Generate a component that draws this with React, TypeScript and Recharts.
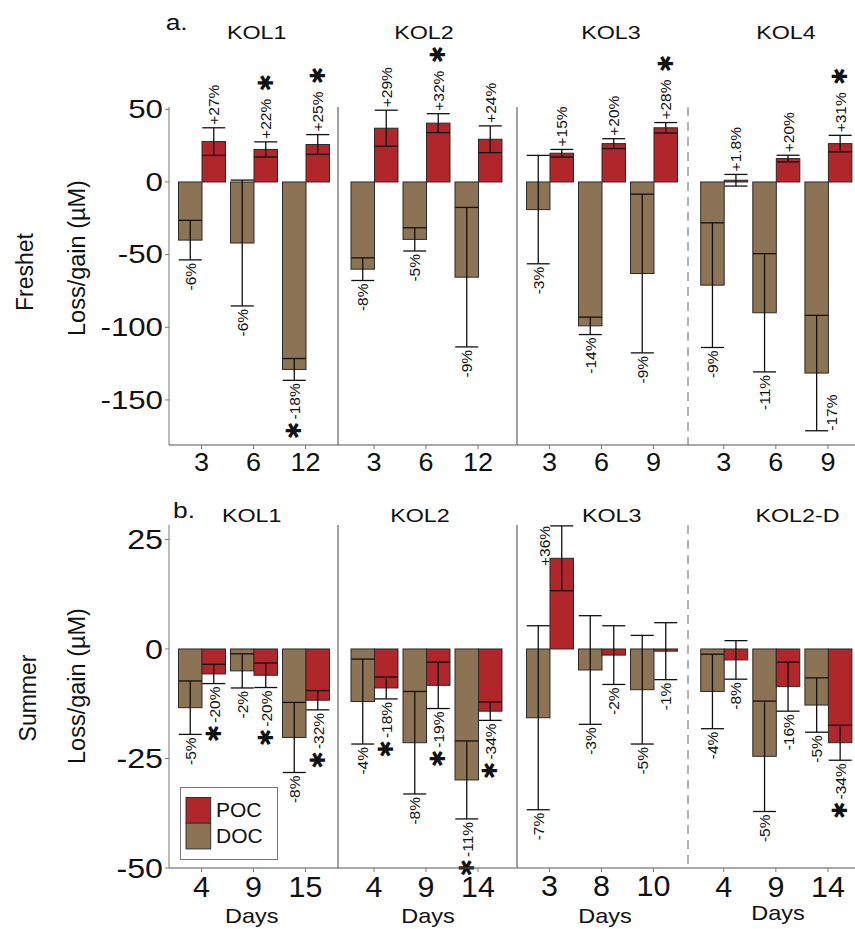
import React from "react";
import { BarChart, Bar, XAxis, YAxis, ErrorBar, Legend } from "recharts";

const FONT = '"Liberation Sans", Arial, Helvetica, sans-serif';
const DOC_FILL = "#8c7354";
const POC_FILL = "#b0262b";
const INK = "#111";

// ---- Freshet (panel a) ----
const freshetSites = ["KOL1", "KOL2", "KOL3", "KOL4"];
const freshetDays = [[3, 6, 12], [3, 6, 12], [3, 6, 9], [3, 6, 9]];
const freshetDoc = [[-40, -42, -129], [-60, -39.5, -65.5], [-19, -99, -63], [-71, -90, -131.5]];
const freshetDocErr = [[13.6, 43.3, 7.5], [7.8, 8, 48], [37.3, 6, 54.6], [42.9, 40.7, 39.7]];
const freshetPoc = [[27.8, 22.4, 25.8], [37, 40.5, 29.4], [19.8, 26.4, 37.3], [1.2, 16.1, 26.4]];
const freshetPocErr = [[9.5, 5.2, 6.8], [12.4, 6.5, 9.2], [2.6, 3.4, 3.6], [4, 2.3, 5.7]];
const freshetDocPct = [["-6%", "-6%", "-18%"], ["-8%", "-5%", "-9%"], ["-3%", "-14%", "-9%"], ["-9%", "-11%", "-17%"]];
const freshetPocPct = [["+27%", "+22%", "+25%"], ["+29%", "+32%", "+24%"], ["+15%", "+20%", "+28%"], ["+1.8%", "+20%", "+31%"]];
const freshetDocSig = [[false, false, true], [false, false, false], [false, false, false], [false, false, false]];
const freshetPocSig = [[false, true, true], [false, true, false], [false, false, true], [false, false, true]];
const freshetTicks = [50, 0, -50, -100, -150];
const freshetDomain: [number, number] = [-181, 51.6];

// ---- Summer (panel b) ----
const summerSites = ["KOL1", "KOL2", "KOL3", "KOL2-D"];
const summerDays = [[4, 9, 15], [4, 9, 14], [3, 8, 10], [4, 9, 14]];
const summerDoc = [[-13.4, -5, -20.2], [-12, -21.4, -29.9], [-15.7, -4.8, -9.3], [-9.7, -24.5, -12.8]];
const summerDocErr = [[6.1, 3.9, 8], [9.7, 11.7, 8.9], [21, 12.4, 12.4], [8.5, 12.6, 6.2]];
const summerPoc = [[-5.7, -6, -11.7], [-8.9, -8.3, -14.2], [20.7, -1.4, -0.5], [-2.5, -8.6, -21.4]];
const summerPocErr = [[2.2, 2.8, 2.2], [2.5, 5.3, 2.1], [7.4, 6.7, 6.5], [4.4, 5.6, 4]];
const summerDocPct = [["-5%", "-2%", "-8%"], ["-4%", "-8%", "-11%"], ["-7%", "-3%", "-5%"], ["-4%", "-5%", "-5%"]];
const summerPocPct = [["-20%", "-20%", "-32%"], ["-18%", "-19%", "-34%"], ["+36%", "-2%", "-1%"], ["-8%", "-16%", "-34%"]];
const summerDocSig = [[false, false, false], [false, false, true], [false, false, false], [false, false, false]];
const summerPocSig = [[true, true, true], [true, true, true], [false, false, false], [false, false, true]];
const summerTicks = [25, 0, -25, -50];
const summerDomain: [number, number] = [-50, 28.3];

function buildRows(
  days: number[][], doc: number[][], docErr: number[][], poc: number[][], pocErr: number[][],
  docPct: string[][], pocPct: string[][], docSig: boolean[][], pocSig: boolean[][]
) {
  return days.map((ds, s) =>
    ds.map((d, i) => ({
      day: String(d),
      doc: doc[s][i], docErr: docErr[s][i], docPct: docPct[s][i], docSig: docSig[s][i],
      poc: poc[s][i], pocErr: pocErr[s][i], pocPct: pocPct[s][i], pocSig: pocSig[s][i],
    }))
  );
}

const freshetRows = buildRows(freshetDays, freshetDoc, freshetDocErr, freshetPoc, freshetPocErr,
  freshetDocPct, freshetPocPct, freshetDocSig, freshetPocSig);
const summerRows = buildRows(summerDays, summerDoc, summerDocErr, summerPoc, summerPocErr,
  summerDocPct, summerPocPct, summerDocSig, summerPocSig);

// sub-panel slots shared by both rows
const slots = [
  { left: 0, width: 338, yw: 169, pad: { left: 6.5, right: 6.5 }, dashed: false },
  { left: 337, width: 179.5, yw: 1, pad: { left: 10, right: 12.5 }, dashed: false },
  { left: 515.5, width: 172.8, yw: 1, pad: { left: 6.5, right: 9.3 }, dashed: false },
  { left: 687.3, width: 171, yw: 1, pad: { left: 9.7, right: 4 }, dashed: true },
];

const LABEL_SIZE = 15.5;
const STAR_SIZE = 21;
const charW: Record<string, number> = { "-": 0.333, "+": 0.584, ".": 0.278, "%": 0.889 };
const textLen = (s: string, size: number) => {
  let w = 0;
  for (const c of s) w += charW[c] ?? 0.556;
  return w * size;
};

function BarMark(props: any) {
  const { x, y, width, height, background, payload, kind, domain } = props;
  const fill = kind === "doc" ? DOC_FILL : POC_FILL;
  const v: number = payload[kind];
  const err: number = payload[kind + "Err"];
  const pct: string = payload[kind + "Pct"];
  const sig: boolean = payload[kind + "Sig"];
  const [dmin, dmax] = domain;
  const pix = (val: number) => background.y + ((dmax - val) / (dmax - dmin)) * background.height;
  const top = Math.min(y, y + height);
  const h = Math.abs(height);
  const cx = x + width / 2;
  const up = v >= 0;
  const capY = pix(up ? v + err : v - err);
  const gap = 3;
  const len = textLen(pct, LABEL_SIZE);
  const side = kind === "doc" ? 1 : -1;
  let lx = cx;
  let ly: number;
  let anchor: "start" | "end";
  if (up) {
    if (capY - gap - len < 0) {
      // no room above: put it beside the whisker, hanging down from the cap
      lx = cx + side * width * 0.75;
      ly = capY;
      anchor = "end";
    } else {
      ly = capY - gap;
      anchor = "start";
    }
  } else if (capY + gap + len > background.y + background.height + 6) {
    // no room below the axis: put it beside the whisker, rising from the cap
    lx = cx + side * width * 0.65;
    ly = capY;
    anchor = "start";
  } else {
    ly = capY + gap;
    anchor = "end";
  }
  const star = (
    <tspan fontSize={STAR_SIZE} fontFamily="DejaVu Sans">
      {"\u2731"}
    </tspan>
  );
  let content: React.ReactNode = pct;
  if (sig && up) content = <>{pct}<tspan dx={3}> </tspan>{star}</>;
  if (sig && !up) content = <>{star}<tspan dx={2}>{pct}</tspan></>;
  return (
    <g>
      <rect x={x} y={top} width={width} height={h} fill={fill} stroke="#2a2a2a" strokeWidth={1} />
      <text
        transform={`translate(${lx},${ly}) rotate(-90)`}
        textAnchor={anchor}
        dominantBaseline="central"
        fontSize={LABEL_SIZE}
        fontFamily={FONT}
        fill={INK}
      >
        {content}
      </text>
    </g>
  );
}

function LegendBox({ payload }: any) {
  const items = [...(payload ?? [])].reverse();
  return (
    <svg width={98} height={73} style={{ display: "block" }}>
      <rect x={0.5} y={0.5} width={97} height={72} fill="#fff" stroke="#777" />
      {items.map((it: any, i: number) => (
        <g key={it.value}>
          <rect x={6} y={10.5 + i * 25.7} width={24.7} height={25.7} fill={it.color} stroke="#333" />
          <text x={36} y={29.5 + i * 26.6} fontSize={21} fontFamily={FONT} fill={INK}>
            {it.value}
          </text>
        </g>
      ))}
    </svg>
  );
}

type PanelProps = {
  rows: any[][];
  domain: [number, number];
  ticks: number[];
  top: number;
  marginTop: number;
  plotH: number;
  xh: number;
  xTick: { size: number; sx: number; dy: number };
  yTick: { size: number; sx: number };
  legend?: boolean;
};

function Panel({ rows, domain, ticks, top, marginTop, plotH, xh, xTick, yTick, legend }: PanelProps) {
  const h = marginTop + plotH + xh;
  return (
    <>
      {slots.map((slot, s) => (
        <div key={s} style={{ position: "absolute", left: slot.left, top, width: slot.width, height: h }}>
          <BarChart
            width={slot.width}
            height={h}
            data={rows[s]}
            margin={{ top: marginTop, right: 0, bottom: 0, left: 0 }}
            barSize={23.5}
            barGap={0}
          >
            <XAxis
              dataKey="day"
              interval={0}
              padding={slot.pad}
              height={xh}
              tickSize={4}
              tickMargin={0}
              axisLine={{ stroke: "#555" }}
              tickLine={{ stroke: "#777" }}
              tick={(p: any) => (
                <text
                  transform={`translate(${p.x},${p.y + xTick.dy}) scale(${xTick.sx},1)`}
                  textAnchor="middle"
                  fontSize={xTick.size}
                  fontFamily={FONT}
                  fill={INK}
                >
                  {p.payload.value}
                </text>
              )}
            />
            {s === 0 ? (
              <YAxis
                type="number"
                domain={domain}
                ticks={ticks}
                interval={0}
                width={slot.yw}
                tickSize={4}
                tickMargin={2}
                axisLine={{ stroke: "#777" }}
                tickLine={{ stroke: "#777" }}
                tick={(p: any) => (
                  <text
                    transform={`translate(${p.x},${p.y}) scale(${yTick.sx},1)`}
                    textAnchor="end"
                    dominantBaseline="central"
                    fontSize={yTick.size}
                    fontFamily={FONT}
                    fill={INK}
                  >
                    {p.payload.value}
                  </text>
                )}
              />
            ) : (
              <YAxis
                type="number"
                domain={domain}
                ticks={ticks}
                width={slot.yw}
                tick={false}
                tickLine={false}
                axisLine={{ stroke: slot.dashed ? "#666" : "#444", strokeDasharray: slot.dashed ? "9 6" : undefined }}
              />
            )}
            <Bar
              dataKey="doc"
              name="DOC"
              fill={DOC_FILL}
              isAnimationActive={false}
              shape={(p: any) => <BarMark {...p} kind="doc" domain={domain} />}
            >
              <ErrorBar dataKey="docErr" width={11.5} stroke={INK} strokeWidth={1.3} isAnimationActive={false} />
            </Bar>
            <Bar
              dataKey="poc"
              name="POC"
              fill={POC_FILL}
              isAnimationActive={false}
              shape={(p: any) => <BarMark {...p} kind="poc" domain={domain} />}
            >
              <ErrorBar dataKey="pocErr" width={11.5} stroke={INK} strokeWidth={1.3} isAnimationActive={false} />
            </Bar>
            {legend && s === 0 ? (
              <Legend
                layout="vertical"
                align="center"
                verticalAlign="middle"
                content={(p: any) => <LegendBox payload={p.payload} />}
                wrapperStyle={{ left: 180, top: 282.3, width: 98, height: 73 }}
              />
            ) : null}
          </BarChart>
        </div>
      ))}
    </>
  );
}

const Stretch = ({ x, y, size, sx, anchor = "middle", children }: any) => (
  <text
    transform={`translate(${x},${y}) scale(${sx},1)`}
    textAnchor={anchor}
    fontSize={size}
    fontFamily={FONT}
    fill={INK}
  >
    {children}
  </text>
);

const Rot = ({ x, y, size, children }: any) => (
  <text
    transform={`translate(${x},${y}) rotate(-90)`}
    textAnchor="middle"
    dominantBaseline="central"
    fontSize={size}
    fontFamily={FONT}
    fill={INK}
  >
    {children}
  </text>
);

const freshetTitleX = [256.7, 424, 611, 786];
const summerTitleX = [251.7, 420, 611.7, 797.5];
const daysX = [251.7, 428, 605, 778];

export default function App() {
  return (
    <div
      style={{
        position: "absolute",
        left: 0,
        top: 0,
        width: 855,
        height: 929,
        overflow: "hidden",
        background: "#fff",
        fontFamily: FONT,
      }}
    >
      <Panel
        rows={freshetRows}
        domain={freshetDomain}
        ticks={freshetTicks}
        top={30}
        marginTop={77}
        plotH={338}
        xh={36}
        xTick={{ size: 25, sx: 1.08, dy: 22 }}
        yTick={{ size: 25, sx: 1.25 }}
      />
      <Panel
        rows={summerRows}
        domain={summerDomain}
        ticks={summerTicks}
        top={505}
        marginTop={20}
        plotH={343}
        xh={44}
        xTick={{ size: 29, sx: 1.05, dy: 24.5 }}
        yTick={{ size: 28, sx: 1.15 }}
        legend
      />
      <svg
        width={855}
        height={929}
        style={{ position: "absolute", left: 0, top: 0, pointerEvents: "none" }}
      >
        <Stretch x={165.7} y={30} size={22} sx={1.2} anchor="start">a.</Stretch>
        {freshetSites.map((t, i) => (
          <Stretch key={t} x={freshetTitleX[i]} y={38.5} size={18.5} sx={1.26}>{t}</Stretch>
        ))}
        <Stretch x={173} y={518} size={22} sx={1.2} anchor="start">b.</Stretch>
        {summerSites.map((t, i) => (
          <Stretch key={t} x={summerTitleX[i]} y={522} size={18.5} sx={1.26}>{t}</Stretch>
        ))}
        <Rot x={25} y={272} size={23}>Freshet</Rot>
        <Rot x={77} y={258} size={23.5}>Loss/gain (µM)</Rot>
        <Rot x={28} y={698} size={23}>Summer</Rot>
        <Rot x={77} y={686} size={23.5}>Loss/gain (µM)</Rot>
        {daysX.map((x, i) => (
          <Stretch key={i} x={x} y={i === 3 ? 920 : 923} size={21} sx={1.12}>Days</Stretch>
        ))}
      </svg>
    </div>
  );
}
